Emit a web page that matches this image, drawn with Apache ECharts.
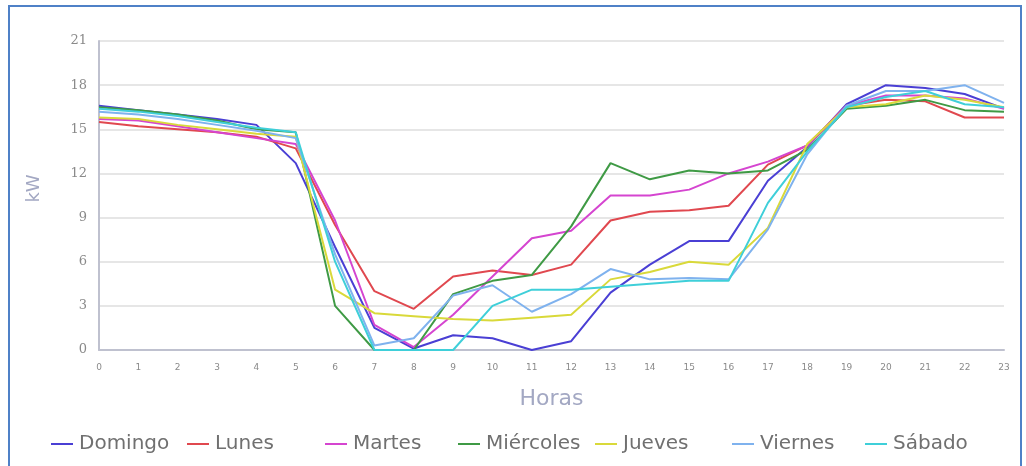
<!DOCTYPE html>
<html><head><meta charset="utf-8">
<script src="https://cdn.jsdelivr.net/npm/echarts@6/dist/echarts.min.js"></script>
<style>
html,body{margin:0;padding:0;background:#fff;}
#c{width:1026px;height:466px;}
#frame{position:absolute;left:8px;top:5px;width:1010px;height:470px;border:2px solid #4f81c7;pointer-events:none;}
</style></head>
<body>
<div id="c"></div>
<div id="frame"></div>
<script>
const hours = ['0','1','2','3','4','5','6','7','8','9','10','11','12','13','14','15','16','17','18','19','20','21','22','23'];
const yTicks = [0,3,6,9,12,15,18,21];
const seriesNames = ['Domingo','Lunes','Martes','Miércoles','Jueves','Viernes','Sábado'];
const domingo   = [16.6,16.3,16.0,15.7,15.3,12.7,7.0,1.5,0.1,1.0,0.8,0.0,0.6,3.9,5.8,7.4,7.4,11.5,13.8,16.7,18.0,17.8,17.4,16.4];
const lunes     = [15.5,15.2,15.0,14.8,14.5,13.7,8.5,4.0,2.8,5.0,5.4,5.1,5.8,8.8,9.4,9.5,9.8,12.6,13.9,16.6,17.0,16.9,15.8,15.8];
const martes    = [15.7,15.6,15.2,14.8,14.4,14.0,8.8,1.7,0.2,2.4,5.0,7.6,8.1,10.5,10.5,10.9,12.0,12.8,13.9,16.6,17.3,17.3,17.1,16.4];
const miercoles = [16.5,16.3,16.0,15.6,15.0,14.8,3.0,0.0,0.0,3.8,4.7,5.1,8.4,12.7,11.6,12.2,12.0,12.2,13.6,16.4,16.6,17.0,16.3,16.2];
const jueves    = [15.8,15.7,15.3,15.0,14.7,14.5,4.1,2.5,2.3,2.1,2.0,2.2,2.4,4.8,5.3,6.0,5.8,8.3,14.0,16.5,16.7,17.3,17.0,16.5];
const viernes   = [16.2,16.0,15.7,15.3,14.9,14.4,6.5,0.3,0.8,3.7,4.4,2.6,3.8,5.5,4.8,4.9,4.8,8.2,13.3,16.6,17.6,17.6,18.0,16.8];
const sabado    = [16.4,16.2,15.9,15.5,15.1,14.8,6.0,0.0,0.0,0.0,3.0,4.1,4.1,4.3,4.5,4.7,4.7,10.0,13.5,16.5,17.2,17.6,16.7,16.5];
const allData = [domingo,lunes,martes,miercoles,jueves,viernes,sabado];
const colors = ['#4a3fd4','#e0484f','#d545d0','#3f9a45','#d9d93a','#7fb2ee','#3fcfd9'];
const legendLeft = [46,182,320,453,590,727,860];

const chart = echarts.init(document.getElementById('c'));
const legends = seriesNames.map((n,i)=>({
  data:[n], left:legendLeft[i], top:429, itemWidth:22, itemHeight:2, itemGap:6,
  icon:'rect', textStyle:{fontFamily:'DejaVu Sans', fontSize:20, color:'#707070', padding:[0,0,0,1]}
}));
chart.setOption({
  animation:false,
  color:colors,
  legend:legends,
  grid:{left:99,right:22,top:41,bottom:116},
  xAxis:{type:'category',data:hours,boundaryGap:false,
    name:'Horas',nameLocation:'middle',nameGap:38,
    nameTextStyle:{fontFamily:'DejaVu Sans',fontSize:22,color:'#a3a8c3'},
    axisLine:{lineStyle:{color:'#bfc1cf',width:2}},
    axisTick:{show:false},
    axisLabel:{fontFamily:'DejaVu Sans',fontSize:9,color:'#8a8a8a',margin:13,interval:0},
    splitLine:{show:false}},
  yAxis:{type:'value',min:0,max:21,interval:3,
    name:'kW',nameLocation:'middle',nameGap:56,
    nameTextStyle:{fontFamily:'DejaVu Sans',fontSize:18,color:'#a3a8c3',padding:[0,0,0,14]},
    axisLine:{show:true,lineStyle:{color:'#bfc1cf',width:2}},
    axisTick:{show:false},
    axisLabel:{fontFamily:'DejaVu Serif',fontSize:13,color:'#8a8a8a',margin:12},
    splitLine:{lineStyle:{color:'#e6e6e6',width:2}}},
  series: seriesNames.map((n,i)=>({name:n,type:'line',data:allData[i],symbol:'none',
    lineStyle:{width:2},z:2}))
});
</script>
</body></html>
